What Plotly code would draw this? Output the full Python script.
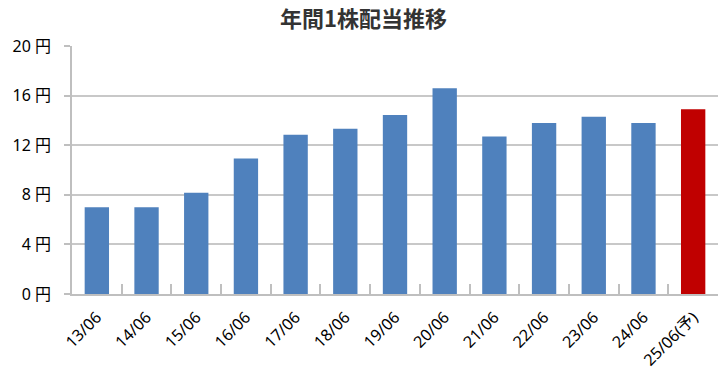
import plotly.graph_objects as go

categories = ["13/06", "14/06", "15/06", "16/06", "17/06", "18/06", "19/06",
              "20/06", "21/06", "22/06", "23/06", "24/06", "25/06(予)"]
dividends = [7.0, 7.0, 8.17, 10.92, 12.85, 13.33, 14.43, 16.6, 12.7, 13.8, 14.3, 13.8, 14.9]
bar_colors = ["#4f81bd"] * 12 + ["#c00000"]
y_ticks = [0, 4, 8, 12, 16, 20]
y_tick_labels = [f"{v}\u00a0円" for v in y_ticks]

fig = go.Figure()
fig.add_trace(go.Bar(
    x=categories, y=dividends,
    marker=dict(color=bar_colors, line=dict(width=0)),
    width=0.49,
))

font_family = "Noto Sans, Noto Sans CJK JP, sans-serif"
title_font = "Noto Sans CJK JP, sans-serif"
fig.update_layout(
    width=727, height=378,
    margin=dict(l=72, r=9, t=46, b=84, autoexpand=False),
    paper_bgcolor="white", plot_bgcolor="white",
    showlegend=False,
    title=dict(text="<b>年間1株配当推移</b>", x=0.5, xanchor="center",
               xref="container", yref="container",
               y=0.948, yanchor="middle", automargin=False,
               font=dict(family=title_font, size=22, color="#333333")),
    font=dict(family=font_family, size=16, color="#000000"),
)
fig.update_xaxes(
    type="category", automargin=False,
    showline=True, linecolor="#bfbfbf", linewidth=1.5,
    ticks="inside", ticklen=10, tickcolor="#bfbfbf", tickwidth=1.5,
    tickson="boundaries",
    tickangle=-45,
    ticklabelstandoff=6,
    tickfont=dict(family=font_family, size=16, color="#000000"),
    showgrid=False,
)
fig.update_yaxes(
    range=[0, 20], automargin=False,
    tickvals=y_ticks, ticktext=y_tick_labels,
    showline=True, linecolor="#bfbfbf", linewidth=1.5,
    ticks="outside", ticklen=6, tickcolor="#bfbfbf", tickwidth=1.5,
    ticklabelstandoff=10,
    showgrid=True, gridcolor="#c8c8c8", gridwidth=1.5,
    zeroline=False,
    tickfont=dict(family=font_family, size=16, color="#000000"),
)

fig.write_html("out.html", config={"displayModeBar": False},
               post_script="document.body.style.margin='0';document.body.style.overflow='hidden';")
